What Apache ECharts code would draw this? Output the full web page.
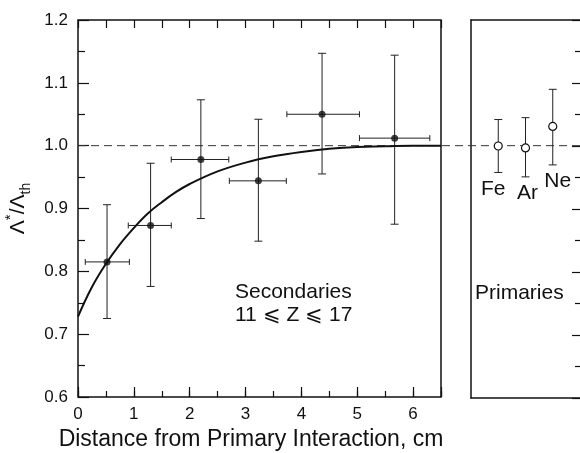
<!DOCTYPE html>
<html>
<head>
<meta charset="utf-8">
<title>Secondaries vs Primaries</title>
<script src="https://cdn.jsdelivr.net/npm/echarts@6/dist/echarts.min.js"></script>
<style>
  html, body { margin: 0; padding: 0; background: #fff; }
  #chart { width: 580px; height: 453px; }
</style>
</head>
<body>
<div id="chart"></div>
<script>
// secondaries 11 <= Z <= 17 (filled points, x and y error bars)
var secX   = [0.52, 1.30, 2.20, 3.23, 4.37, 5.67];
var secY   = [0.815, 0.873, 0.978, 0.944, 1.050, 1.012];
var secXLo = [0.13, 0.90, 1.67, 2.71, 3.74, 5.04];
var secXHi = [0.92, 1.67, 2.70, 3.73, 5.04, 6.30];
var secYLo = [0.725, 0.776, 0.884, 0.848, 0.955, 0.875];
var secYHi = [0.906, 0.972, 1.073, 1.042, 1.147, 1.144];

// fitted curve
var fitX = [0, 0.25, 0.5, 0.75, 1.0, 1.25, 1.5, 1.75, 2.0, 2.5, 3.0, 3.5, 4.0, 4.5, 5.0, 5.5, 6.0, 6.5];
var fitY = [0.728, 0.775, 0.812, 0.843, 0.869, 0.892, 0.910, 0.926, 0.939, 0.959, 0.973, 0.983, 0.990, 0.995, 0.998, 0.999, 1.000, 1.000];

// primaries (open points)
var primNames = ['Fe', 'Ar', 'Ne'];
var primPos   = [1, 2, 3];
var primY     = [1.000, 0.997, 1.031];
var primLo    = [0.958, 0.951, 0.970];
var primHi    = [1.042, 1.045, 1.090];

var refLevel = 1.0;
var yMin = 0.6, yMax = 1.2, yStep = 0.1;
var xMin = 0, xMax = 6.5, xStep = 1;

var FONT = '"Liberation Sans", Arial, Helvetica, sans-serif';
var INK = '#111';

var chart = echarts.init(document.getElementById('chart'));

function seg(x1, y1, x2, y2) {
    return {type: 'line', shape: {x1: x1, y1: y1, x2: x2, y2: y2},
            style: {stroke: '#222', lineWidth: 1}};
}

// error bars with caps in both directions
function renderSecBars(params, api) {
    var x = api.value(0), y = api.value(1);
    var c = api.coord([x, y]);
    var xl = api.coord([api.value(2), y]);
    var xh = api.coord([api.value(3), y]);
    var yl = api.coord([x, api.value(4)]);
    var yh = api.coord([x, api.value(5)]);
    return {type: 'group', children: [
        seg(c[0], yl[1], c[0], yh[1]),
        seg(c[0] - 4, yl[1], c[0] + 4, yl[1]),
        seg(c[0] - 4, yh[1], c[0] + 4, yh[1]),
        seg(xl[0], c[1], xh[0], c[1]),
        seg(xl[0], c[1] - 3, xl[0], c[1] + 3),
        seg(xh[0], c[1] - 3, xh[0], c[1] + 3)
    ]};
}

var nudge = {Fe: -5, Ar: 2, Ne: 5};
function renderPrimBars(params, api) {
    var x = api.value(0);
    var c = api.coord([x, api.value(1)]);
    var yl = api.coord([x, api.value(2)]);
    var yh = api.coord([x, api.value(3)]);
    var name = primNames[params.dataIndex];
    return {type: 'group', children: [
        seg(c[0], yl[1], c[0], yh[1]),
        seg(c[0] - 4, yl[1], c[0] + 4, yl[1]),
        seg(c[0] - 4, yh[1], c[0] + 4, yh[1]),
        {type: 'text', style: {
            text: name, x: c[0] + nudge[name], y: yl[1] + 6,
            align: 'center', verticalAlign: 'top',
            font: '21px ' + FONT, fill: INK
        }}
    ]};
}

var secBars = secX.map(function (v, i) {
    return [v, secY[i], secXLo[i], secXHi[i], secYLo[i], secYHi[i]];
});
var secPts = secX.map(function (v, i) { return [v, secY[i]]; });
var fitPts = fitX.map(function (v, i) { return [v, fitY[i]]; });
var primBars = primPos.map(function (v, i) { return [v, primY[i], primLo[i], primHi[i]]; });
var primPts = primPos.map(function (v, i) { return [v, primY[i]]; });

var hidden = {axisLine: {show: false, onZero: false}, axisTick: {show: false}, axisLabel: {show: false}, splitLine: {show: false}};
var frameLine = {axisLine: {show: true, onZero: false, lineStyle: {color: INK, width: 1.5}},
                 axisTick: {show: false}, axisLabel: {show: false}, splitLine: {show: false}};
var tickStyle = {color: INK, width: 1.2};
var noLine = {show: false, onZero: false};

option = {
    backgroundColor: '#fff',
    animation: false,
    grid: [
        {left: 78, right: 139, top: 20, bottom: 56, show: true, borderColor: INK, borderWidth: 1.5,
         outerBoundsMode: 'none'},
        {left: 471, right: 0, top: 20, bottom: 55, show: false, outerBoundsMode: 'none'},
        {left: 78, right: 0, top: 20, bottom: 56, show: false, outerBoundsMode: 'none'}
    ],
    xAxis: [
        { // main bottom axis, labels and long ticks
            gridIndex: 0, type: 'value', min: xMin, max: xMax, interval: xStep, position: 'bottom',
            axisLine: noLine,
            axisTick: {inside: true, length: 10, lineStyle: tickStyle},
            axisLabel: {margin: 9, color: INK, fontSize: 17, fontFamily: FONT,
                        formatter: function (v) { return v % 1 === 0 ? String(v) : ''; }},
            splitLine: {show: false},
            name: 'Distance from Primary Interaction, cm', nameLocation: 'middle', nameGap: 28,
            nameTextStyle: {color: INK, fontSize: 23, fontFamily: FONT, padding: [0, 17, 0, 0]}
        },
        { // half-unit short ticks on the bottom
            gridIndex: 0, type: 'value', min: xMin, max: xMax, interval: 0.5, position: 'bottom',
            axisLine: noLine,
            axisTick: {inside: true, length: 6, lineStyle: tickStyle},
            axisLabel: {show: false}, splitLine: {show: false}
        },
        { // top ticks
            gridIndex: 0, type: 'value', min: xMin, max: xMax, interval: 0.5, position: 'top',
            axisLine: noLine,
            axisTick: {inside: true, length: 8, lineStyle: tickStyle},
            axisLabel: {show: false}, splitLine: {show: false}
        },
        Object.assign({gridIndex: 1, type: 'value', min: 0, max: 4, position: 'bottom'}, frameLine),
        Object.assign({gridIndex: 1, type: 'value', min: 0, max: 4, position: 'top'}, frameLine),
        Object.assign({gridIndex: 2, type: 'value', min: 0, max: 1}, hidden)
    ],
    yAxis: [
        {
            gridIndex: 0, type: 'value', min: yMin, max: yMax, interval: yStep,
            axisLine: noLine,
            axisTick: {inside: true, length: 11, lineStyle: tickStyle},
            minorTick: {show: true, splitNumber: 2, length: 7, lineStyle: tickStyle},
            axisLabel: {margin: 10, color: INK, fontSize: 17, fontFamily: FONT,
                        formatter: function (v) { return v.toFixed(1); }},
            splitLine: {show: false},
            name: '{n|Λ}{sup|*}{n|/Λ}{sub|th}', nameLocation: 'middle', nameRotate: 90, nameGap: 43,
            nameTextStyle: {
                color: INK, fontFamily: FONT,
                rich: {
                    n: {fontSize: 21, fontFamily: FONT, color: INK, lineHeight: 30},
                    sup: {fontSize: 15, fontFamily: FONT, color: INK, verticalAlign: 'top', lineHeight: 18},
                    sub: {fontSize: 14, fontFamily: FONT, color: INK, verticalAlign: 'bottom', lineHeight: 14}
                }
            }
        },
        Object.assign({gridIndex: 1, type: 'value', min: yMin, max: yMax, position: 'left'}, frameLine),
        {
            gridIndex: 1, type: 'value', min: yMin, max: yMax, interval: yStep, position: 'right',
            axisLine: noLine,
            axisTick: {inside: true, length: 8, lineStyle: tickStyle},
            minorTick: {show: true, splitNumber: 2, length: 5, lineStyle: tickStyle},
            axisLabel: {show: false}, splitLine: {show: false}
        },
        Object.assign({gridIndex: 2, type: 'value', min: yMin, max: yMax}, hidden)
    ],
    graphic: [
        {type: 'text', left: 235, top: 281, z: 10,
         style: {text: 'Secondaries\n11 ⩽ Z ⩽ 17', font: '21px ' + FONT, fill: INK, lineHeight: 23}},
        {type: 'text', left: 475, top: 283, z: 10,
         style: {text: 'Primaries', font: '21px ' + FONT, fill: INK}}
    ],
    series: [
        { // dashed reference line across both panels
            type: 'line', xAxisIndex: 5, yAxisIndex: 3, z: 1,
            data: [[0, refLevel], [1, refLevel]], symbol: 'none',
            lineStyle: {color: '#333', width: 1, type: [8, 5]}
        },
        {
            type: 'custom', xAxisIndex: 0, yAxisIndex: 0, z: 2,
            renderItem: renderSecBars, data: secBars
        },
        {
            type: 'line', xAxisIndex: 0, yAxisIndex: 0, z: 3,
            data: fitPts, smooth: 0.4, symbol: 'none',
            lineStyle: {color: INK, width: 2}
        },
        {
            type: 'scatter', xAxisIndex: 0, yAxisIndex: 0, z: 4,
            data: secPts, symbolSize: 7, itemStyle: {color: INK}
        },
        {
            type: 'custom', xAxisIndex: 3, yAxisIndex: 1, z: 2,
            renderItem: renderPrimBars, data: primBars
        },
        {
            type: 'scatter', xAxisIndex: 3, yAxisIndex: 1, z: 4,
            data: primPts, symbolSize: 8,
            itemStyle: {color: '#fff', borderColor: INK, borderWidth: 1.2, opacity: 1}
        }
    ]
};
chart.setOption(option);
</script>
</body>
</html>
